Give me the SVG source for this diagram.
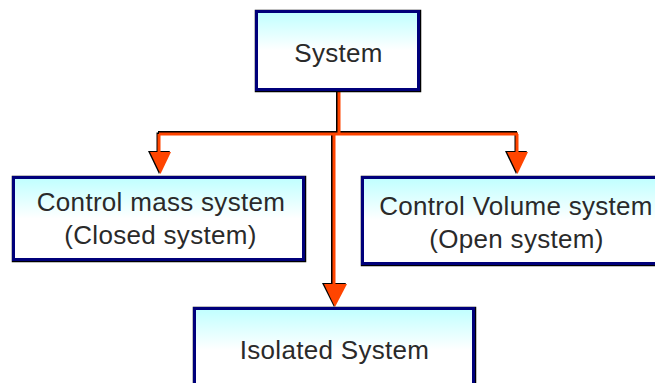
<svg xmlns="http://www.w3.org/2000/svg" width="655" height="383" viewBox="0 0 655 383">
  <defs>
    <linearGradient id="fillGrad" x1="0" y1="0" x2="0" y2="1">
      <stop offset="0" stop-color="#BFFFFF"/>
      <stop offset="0.5" stop-color="#FFFFFF"/>
      <stop offset="1" stop-color="#FFFFFF"/>
    </linearGradient>
    <linearGradient id="fillGradTall" gradientUnits="userSpaceOnUse" x1="0" y1="308" x2="0" y2="350">
      <stop offset="0" stop-color="#BFFFFF"/>
      <stop offset="1" stop-color="#FFFFFF"/>
    </linearGradient>
  </defs>
  <style>
    .shadow { fill: none; stroke: #000000; stroke-width: 4.5; }
    .box { stroke: #00007A; stroke-width: 3; }
    .lbl { font-family: "Liberation Sans", Arial, sans-serif; font-size: 26px; fill: #2a2a2a; text-anchor: middle; letter-spacing: 0.3px; }
    .wire { fill: none; stroke: #FF4500; stroke-width: 3; }
    .wireShadow { fill: none; stroke: #000000; stroke-width: 3; }
    .head { fill: #FF4500; }
    .headShadow { fill: #000000; }
  </style>
  <rect width="655" height="383" fill="#FFFFFF"/>

  <g id="connectors">
    <path class="wireShadow" d="M337.5,91 V133 M158,132.5 H517 M158,132.5 V152 M516,132.5 V152 M332.5,133 V284"/>
    <polygon class="headShadow" points="148,151 170,151 159,174"/>
    <polygon class="headShadow" points="505,151 527,151 516,174"/>
    <polygon class="headShadow" points="322,283 346,283 334,307"/>
    <path class="wire" d="M339,91 V134 M159,134 H518 M159,134 V152 M517,134 V152 M334,134 V284"/>
    <polygon class="head" points="150,152 171,152 160.5,174"/>
    <polygon class="head" points="507,152 528,152 517.5,174"/>
    <polygon class="head" points="324,284 347,284 335,307"/>
  </g>

  <g id="system">
    <rect class="shadow" x="257" y="12" width="162" height="78"/>
    <rect class="box" x="256.5" y="11.5" width="162" height="78" fill="url(#fillGrad)"/>
    <text class="lbl" x="338.5" y="62">System</text>
  </g>

  <g id="control-mass">
    <rect class="shadow" x="14" y="178" width="290" height="82"/>
    <rect class="box" x="13.5" y="177.5" width="290" height="82" fill="url(#fillGrad)"/>
    <text class="lbl" x="161" y="211">Control mass system</text>
    <text class="lbl" x="160.5" y="244">(Closed system)</text>
  </g>

  <g id="control-volume">
    <rect class="shadow" x="363" y="178" width="310" height="86"/>
    <rect class="box" x="362.5" y="177.5" width="310" height="86" fill="url(#fillGrad)"/>
    <text class="lbl" x="516" y="215">Control Volume system</text>
    <text class="lbl" x="516.5" y="248">(Open system)</text>
  </g>

  <g id="isolated">
    <rect class="shadow" x="195" y="309" width="279" height="100"/>
    <rect class="box" x="194.5" y="308.5" width="279" height="100" fill="url(#fillGradTall)"/>
    <text class="lbl" x="334.5" y="359">Isolated System</text>
  </g>
</svg>
